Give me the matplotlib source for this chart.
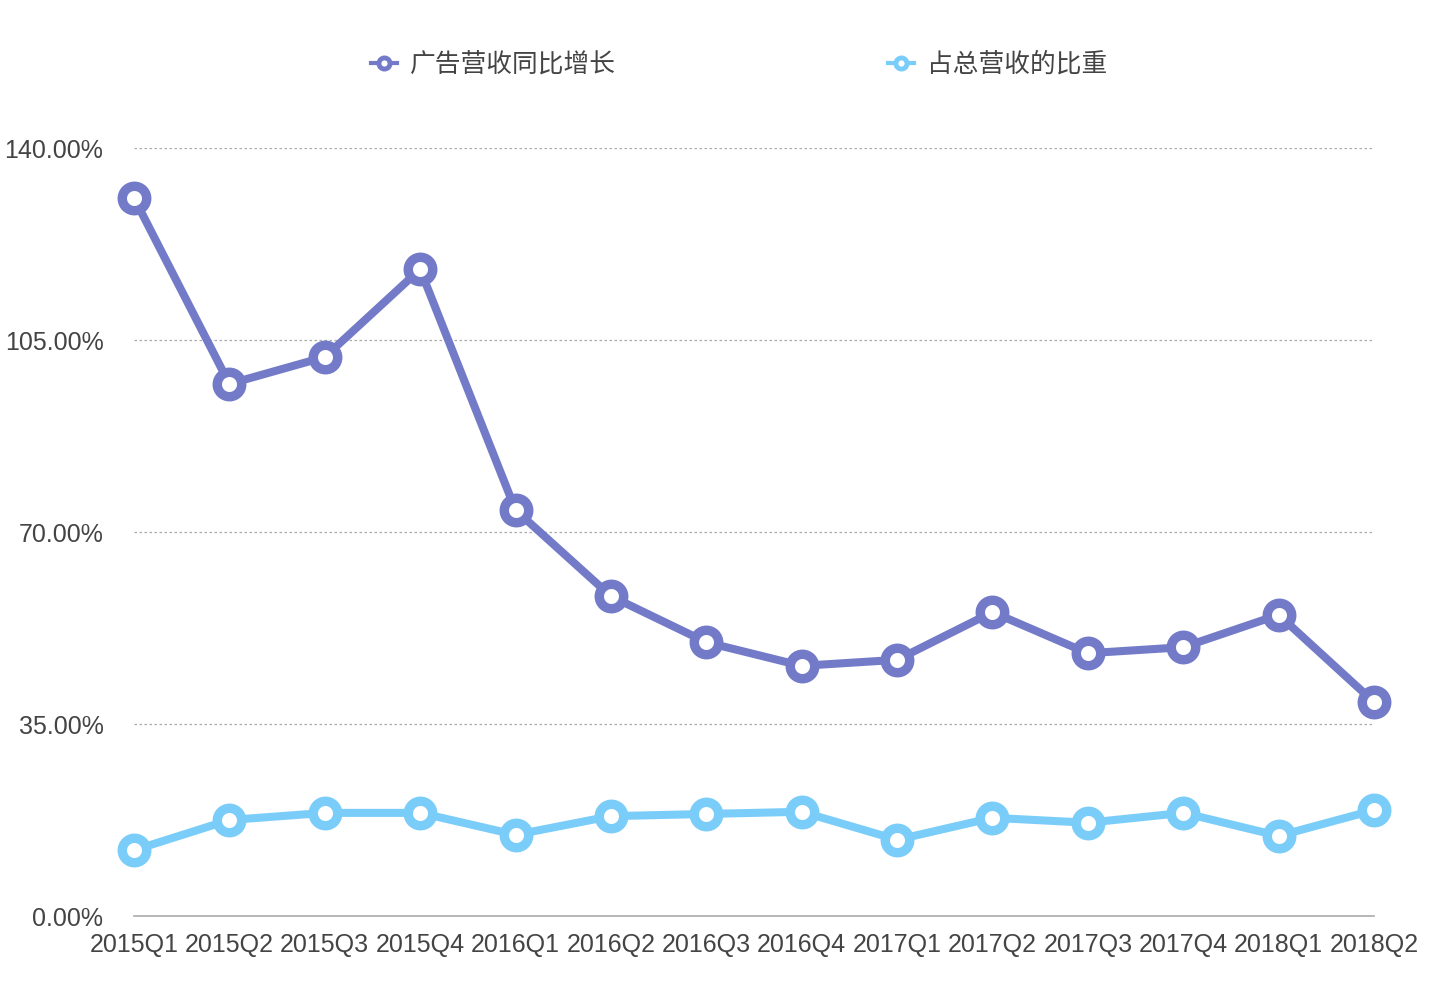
import matplotlib
matplotlib.use('Agg')
import matplotlib.pyplot as plt
from matplotlib.ticker import FuncFormatter
from matplotlib.lines import Line2D

# Quarterly data
quarters = ['2015Q1', '2015Q2', '2015Q3', '2015Q4',
            '2016Q1', '2016Q2', '2016Q3', '2016Q4',
            '2017Q1', '2017Q2', '2017Q3', '2017Q4',
            '2018Q1', '2018Q2']
ad_growth = [130.9, 97.0, 101.9, 117.9, 74.0, 58.3, 49.9, 45.6,
             46.7, 55.4, 47.9, 49.0, 54.9, 39.0]
ad_share = [12.0, 17.5, 18.8, 18.8, 14.8, 18.2, 18.6, 19.0,
            13.9, 17.9, 17.0, 18.8, 14.6, 19.3]
yticks = [0, 35, 70, 105, 140]

purple = '#737BC8'
blue = '#7BCDF9'
text_color = '#444444'

plt.rcParams['font.family'] = ['Liberation Sans', 'Noto Sans CJK SC', 'DejaVu Sans']

fig = plt.figure(figsize=(14.42, 9.86), dpi=100)
ax = fig.add_axes([134 / 1442, 1 - 916 / 986, 1240 / 1442, 768 / 986])

x = list(range(len(quarters)))
style = dict(lw=5.8, marker='o', ms=17.6, mew=6.8, mfc='white',
             clip_on=False, zorder=3)
ax.plot(x, ad_growth, color=purple, mec=purple, label='广告营收同比增长', **style)
ax.plot(x, ad_share, color=blue, mec=blue, label='占总营收的比重', **style)

ax.set_xlim(0, len(quarters) - 1)
ax.set_ylim(0, 140)
ax.set_xticks(x)
ax.set_xticklabels(quarters)
ax.set_yticks(yticks)
ax.yaxis.set_major_formatter(FuncFormatter(lambda v, p: '%.2f%%' % v))
ax.tick_params(axis='x', length=0, pad=12, labelsize=18, colors=text_color)
ax.tick_params(axis='y', length=0, pad=22, labelsize=18, colors=text_color)

ax.grid(axis='y', linestyle=(0, (2, 2)), color='#aaaaaa', lw=0.9)
ax.set_axisbelow(True)
for side in ['top', 'right', 'left']:
    ax.spines[side].set_visible(False)
ax.spines['bottom'].set_color('#aaaaaa')
ax.spines['bottom'].set_linewidth(1.2)
ax.spines['bottom'].set_zorder(1)

# Legend handles with smaller ring markers
handles = [Line2D([], [], color=purple, lw=3, marker='o', ms=8, mew=3.5,
                  mfc='white', mec=purple),
           Line2D([], [], color=blue, lw=3, marker='o', ms=8, mew=3.5,
                  mfc='white', mec=blue)]
leg = fig.legend(handles, ['广告营收同比增长', '占总营收的比重'],
                 loc='center', bbox_to_anchor=(739 / 1442, 1 - 65 / 986),
                 ncol=2, frameon=False, handlelength=1.0, handletextpad=0.5,
                 columnspacing=10.6,
                 prop={'family': ['Noto Sans CJK SC'], 'size': 18.5})
for t in leg.get_texts():
    t.set_color(text_color)

fig.savefig('out.png', dpi=100, facecolor='white')
